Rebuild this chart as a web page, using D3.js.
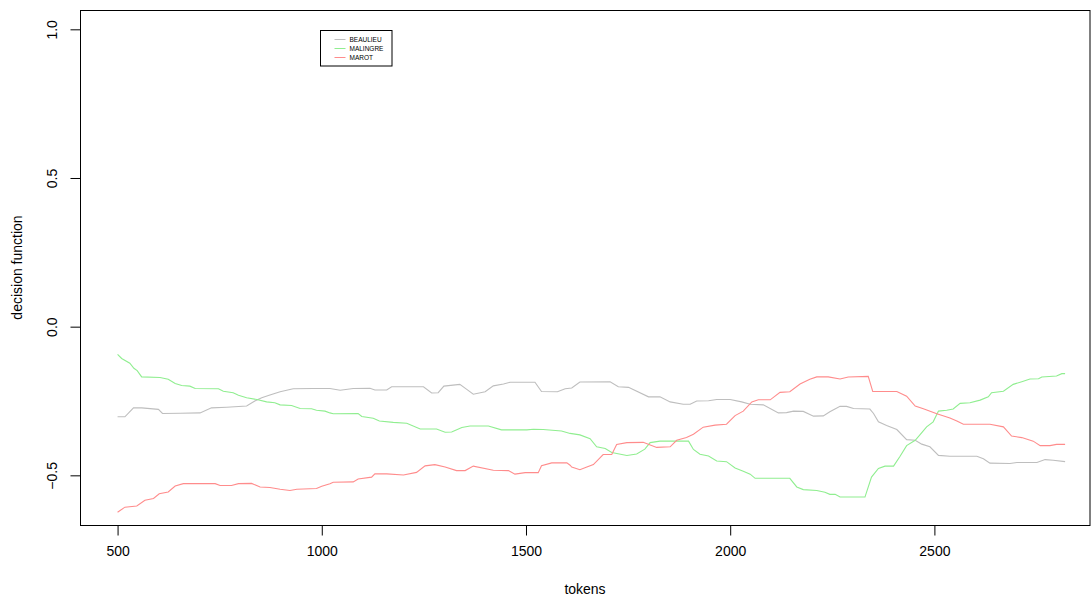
<!DOCTYPE html>
<html>
<head>
<meta charset="utf-8">
<script src="https://cdn.jsdelivr.net/npm/d3@7"></script>
<style>
  body { margin: 0; background: #fff; }
  svg { display: block; font-family: "Liberation Sans", Arial, Helvetica, sans-serif; }
  .tick text { font-size: 14px; fill: #000; }
  .axis-label { font-size: 14px; }
</style>
</head>
<body>
<svg></svg>
<script>
// series: [tokens, decision function]
const beaulieu = [
  [500,-0.303],[518,-0.303],[539,-0.273],[559,-0.273],[600,-0.278],[610,-0.292],[653,-0.291],[702,-0.290],
  [730,-0.273],[767,-0.271],[816,-0.267],[836,-0.250],[853,-0.239],[873,-0.230],[898,-0.219],[930,-0.209],
  [979,-0.208],[1020,-0.208],[1045,-0.214],[1077,-0.208],[1118,-0.207],[1130,-0.213],[1159,-0.213],[1171,-0.202],
  [1249,-0.202],[1269,-0.223],[1285,-0.222],[1299,-0.200],[1338,-0.194],[1355,-0.211],[1371,-0.227],[1400,-0.219],
  [1420,-0.199],[1445,-0.193],[1461,-0.187],[1522,-0.187],[1538,-0.218],[1577,-0.219],[1596,-0.209],[1612,-0.206],
  [1632,-0.186],[1706,-0.185],[1726,-0.202],[1751,-0.204],[1800,-0.236],[1828,-0.236],[1853,-0.253],[1885,-0.261],
  [1902,-0.261],[1918,-0.250],[1947,-0.249],[1967,-0.245],[2000,-0.245],[2028,-0.253],[2049,-0.261],[2081,-0.263],
  [2118,-0.290],[2138,-0.289],[2155,-0.284],[2179,-0.285],[2195,-0.295],[2204,-0.301],[2228,-0.300],[2244,-0.286],
  [2269,-0.268],[2285,-0.268],[2302,-0.275],[2342,-0.277],[2351,-0.292],[2363,-0.320],[2383,-0.332],[2408,-0.346],
  [2432,-0.380],[2453,-0.382],[2469,-0.395],[2489,-0.404],[2510,-0.433],[2538,-0.436],[2604,-0.436],[2620,-0.444],
  [2636,-0.459],[2685,-0.460],[2702,-0.457],[2751,-0.457],[2771,-0.447],[2791,-0.449],[2820,-0.454]
];

const malingre = [
  [500,-0.093],[510,-0.107],[530,-0.123],[540,-0.140],[548,-0.148],[559,-0.169],[604,-0.171],[624,-0.177],
  [641,-0.191],[657,-0.198],[677,-0.200],[690,-0.208],[747,-0.209],[759,-0.217],[783,-0.222],[796,-0.231],
  [816,-0.239],[841,-0.245],[865,-0.253],[885,-0.256],[898,-0.263],[926,-0.265],[947,-0.275],[975,-0.276],
  [987,-0.281],[1008,-0.284],[1020,-0.290],[1028,-0.293],[1089,-0.292],[1098,-0.302],[1126,-0.308],[1141,-0.317],
  [1175,-0.322],[1208,-0.325],[1241,-0.344],[1281,-0.344],[1302,-0.355],[1318,-0.354],[1343,-0.339],[1363,-0.334],
  [1408,-0.334],[1440,-0.347],[1502,-0.347],[1518,-0.345],[1542,-0.346],[1587,-0.351],[1608,-0.359],[1632,-0.364],
  [1657,-0.377],[1673,-0.404],[1694,-0.410],[1710,-0.423],[1747,-0.433],[1771,-0.428],[1791,-0.412],[1804,-0.390],
  [1828,-0.385],[1898,-0.385],[1910,-0.413],[1926,-0.429],[1947,-0.435],[1967,-0.452],[1991,-0.454],[2012,-0.475],
  [2032,-0.486],[2049,-0.496],[2061,-0.510],[2146,-0.510],[2163,-0.539],[2179,-0.548],[2212,-0.551],[2232,-0.557],
  [2244,-0.564],[2257,-0.564],[2269,-0.573],[2330,-0.573],[2346,-0.506],[2363,-0.477],[2379,-0.469],[2400,-0.469],
  [2416,-0.436],[2432,-0.400],[2453,-0.382],[2465,-0.363],[2481,-0.337],[2497,-0.320],[2510,-0.284],[2530,-0.281],
  [2546,-0.277],[2563,-0.258],[2587,-0.256],[2612,-0.247],[2632,-0.236],[2640,-0.222],[2669,-0.217],[2693,-0.194],
  [2714,-0.185],[2734,-0.176],[2755,-0.175],[2763,-0.169],[2799,-0.166],[2812,-0.158],[2820,-0.158]
];

const marot = [
  [500,-0.624],[518,-0.607],[547,-0.603],[567,-0.584],[588,-0.578],[602,-0.562],[624,-0.556],[641,-0.536],
  [661,-0.528],[739,-0.528],[751,-0.534],[779,-0.534],[796,-0.528],[828,-0.527],[849,-0.539],[873,-0.541],
  [898,-0.547],[922,-0.551],[939,-0.547],[987,-0.544],[1000,-0.537],[1020,-0.528],[1028,-0.523],[1077,-0.522],
  [1089,-0.512],[1122,-0.506],[1130,-0.495],[1159,-0.495],[1200,-0.499],[1232,-0.490],[1253,-0.468],[1277,-0.464],
  [1302,-0.472],[1330,-0.484],[1351,-0.484],[1371,-0.469],[1420,-0.483],[1457,-0.484],[1473,-0.496],[1498,-0.491],
  [1530,-0.491],[1538,-0.468],[1563,-0.458],[1600,-0.458],[1608,-0.466],[1612,-0.472],[1632,-0.481],[1649,-0.472],
  [1665,-0.464],[1689,-0.430],[1710,-0.430],[1722,-0.396],[1747,-0.390],[1787,-0.389],[1820,-0.406],[1853,-0.404],
  [1869,-0.382],[1893,-0.373],[1910,-0.362],[1934,-0.338],[1963,-0.331],[1991,-0.328],[2012,-0.299],[2032,-0.284],
  [2053,-0.253],[2069,-0.246],[2098,-0.246],[2122,-0.221],[2146,-0.219],[2171,-0.193],[2195,-0.177],[2212,-0.169],
  [2240,-0.169],[2269,-0.176],[2289,-0.169],[2338,-0.167],[2349,-0.218],[2408,-0.218],[2432,-0.234],[2453,-0.267],
  [2473,-0.276],[2506,-0.293],[2538,-0.307],[2555,-0.317],[2571,-0.328],[2636,-0.328],[2669,-0.337],[2689,-0.368],
  [2714,-0.373],[2742,-0.385],[2759,-0.400],[2783,-0.400],[2799,-0.396],[2820,-0.396]
];

const seriesNames = ["BEAULIEU", "MALINGRE", "MAROT"];
const seriesColors = ["#bebebe", "#90ee90", "#ff8c8c"];
const xTicks = [500, 1000, 1500, 2000, 2500];
const yTicks = [-0.5, 0.0, 0.5, 1.0];

const width = 1091, height = 596;
const plot = { left: 80, right: 1090, top: 10, bottom: 525 };

const svg = d3.select("svg")
  .attr("width", width)
  .attr("height", height);

const x = d3.scaleLinear()
  .domain([408, 2881])
  .range([plot.left, plot.right]);

const y = d3.scaleLinear()
  .domain([-0.667, 1.065])
  .range([plot.bottom, plot.top]);

const line = d3.line()
  .x(d => x(d[0]))
  .y(d => y(d[1]));

// Draw lines
[beaulieu, malingre, marot].forEach((s, i) => {
  svg.append("path")
    .datum(s)
    .attr("fill", "none")
    .attr("stroke", seriesColors[i])
    .attr("stroke-width", 1.1)
    .attr("d", line);
});

// Box
svg.append("rect")
  .attr("x", plot.left + 0.5)
  .attr("y", plot.top + 0.5)
  .attr("width", plot.right - plot.left - 0.5)
  .attr("height", plot.bottom - plot.top)
  .attr("fill", "none")
  .attr("stroke", "#000");

// X axis
const xAxis = svg.append("g")
  .attr("transform", `translate(0,${plot.bottom + 0.5})`)
  .call(d3.axisBottom(x).tickValues(xTicks).tickSize(10).tickPadding(11).tickFormat(d3.format("d")));
xAxis.select(".domain").remove();

// Y axis, labels turned like R's las=0
const yAxis = svg.append("g")
  .attr("transform", `translate(${plot.left + 0.5},0)`)
  .call(d3.axisLeft(y).tickValues(yTicks).tickSize(10).tickFormat(d3.format(".1f")));
yAxis.select(".domain").remove();
yAxis.selectAll("text")
  .attr("x", 0)
  .attr("y", 0)
  .attr("dy", null)
  .attr("transform", "translate(-23.5,0) rotate(-90)")
  .style("text-anchor", "middle");

// Axis labels
svg.append("text")
  .attr("class", "axis-label")
  .attr("x", (plot.left + plot.right) / 2)
  .attr("y", 594)
  .style("text-anchor", "middle")
  .text("tokens");

svg.append("text")
  .attr("class", "axis-label")
  .attr("transform", `translate(22,${(plot.top + plot.bottom) / 2}) rotate(-90)`)
  .style("text-anchor", "middle")
  .text("decision function");

// Legend
const legend = svg.append("g").attr("transform", "translate(320.5,30.5)");
legend.append("rect")
  .attr("width", 71.5)
  .attr("height", 35.5)
  .attr("fill", "#fff")
  .attr("stroke", "#000");
seriesNames.forEach((name, i) => {
  const ly = 9 + i * 9;
  legend.append("line")
    .attr("x1", 14).attr("x2", 25)
    .attr("y1", ly).attr("y2", ly)
    .attr("stroke", seriesColors[i]);
  legend.append("text")
    .attr("x", 29)
    .attr("y", ly)
    .attr("dy", "0.35em")
    .style("font-size", "6.5px")
    .text(name);
});
</script>
</body>
</html>
